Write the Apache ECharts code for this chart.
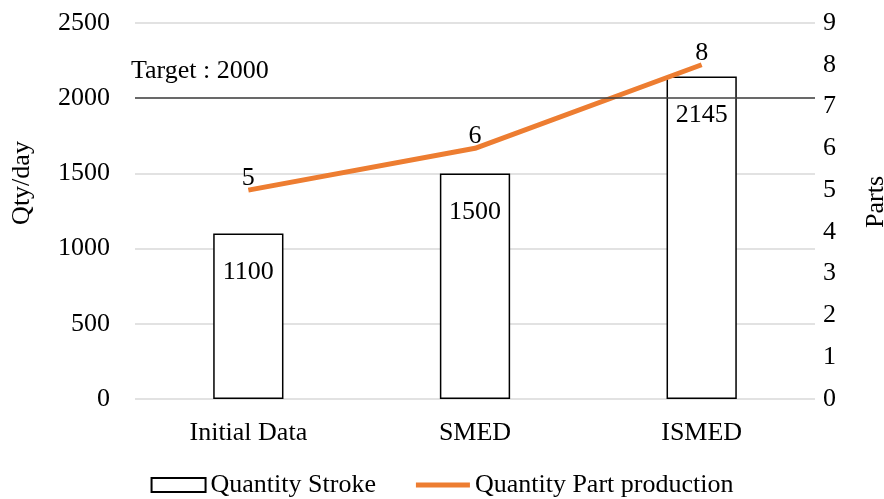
<!DOCTYPE html>
<html>
<head>
<meta charset="utf-8">
<script src="https://cdn.jsdelivr.net/npm/echarts@6/dist/echarts.min.js"></script>
<style>
  html, body { margin: 0; padding: 0; background: #fff; }
  #chart { width: 884px; height: 499px; }
</style>
</head>
<body>
<div id="chart"></div>
<script>
    // values
    var categories = ['Initial Data', 'SMED', 'ISMED'];
    var strokeQty = [1100, 1500, 2145];
    var partQty = [5, 6, 8];
    var targetQty = 2000;

    var font = 'Liberation Serif';
    var fs = 26;

    var option = {
        animation: false,
        grid: { left: 135, right: 69, top: 23, bottom: 100, outerBoundsMode: 'none' },
        legend: {
            bottom: -4,
            left: 'center',
            itemGap: 40,
            itemWidth: 54,
            itemHeight: 14,
            textStyle: { fontFamily: font, fontSize: fs, color: '#000' },
            data: [
                { name: 'Quantity Stroke', icon: 'rect' },
                {
                    name: 'Quantity Part production',
                    icon: 'path://M0,0 H56 V5 H0 Z',
                    itemStyle: { color: '#ED7D31', borderWidth: 0 }
                }
            ]
        },
        xAxis: {
            type: 'category',
            data: categories,
            axisLine: { show: false },
            axisTick: { show: false },
            axisLabel: { fontFamily: font, fontSize: fs, color: '#000', margin: 21 }
        },
        yAxis: [
            {
                type: 'value',
                min: 0, max: 2500, interval: 500,
                name: 'Qty/day',
                nameLocation: 'middle',
                nameGap: 100,
                nameRotate: 90,
                nameTextStyle: { fontFamily: font, fontSize: fs, color: '#000', padding: [0, 0, 0, 56] },
                axisLabel: {
                    fontFamily: font, fontSize: fs, color: '#000', margin: 25,
                    formatter: function (v) { return String(v); }
                },
                splitLine: { lineStyle: { color: '#d9d9d9', width: 1.5 } }
            },
            {
                type: 'value',
                min: 0, max: 9, interval: 1,
                name: 'Parts',
                nameLocation: 'middle',
                nameRotate: 90,
                nameGap: 48,
                nameTextStyle: { fontFamily: font, fontSize: fs, color: '#000', padding: [0, 0, 0, 18] },
                axisLabel: { fontFamily: font, fontSize: fs, color: '#000', margin: 8 },
                splitLine: { show: false }
            }
        ],
        series: [
            {
                name: 'Quantity Stroke',
                type: 'bar',
                data: strokeQty,
                barWidth: '31%',
                itemStyle: { color: '#fff', borderColor: '#000', borderWidth: 1.5 },
                label: {
                    show: true, position: 'insideTop', distance: 26,
                    fontFamily: font, fontSize: fs, color: '#000'
                },
                markLine: {
                    silent: true,
                    symbol: 'none',
                    lineStyle: { color: '#404040', width: 1.5, type: 'solid' },
                    label: {
                        show: true, position: 'insideStartTop',
                        formatter: 'Target : ' + targetQty,
                        fontFamily: font, fontSize: fs, color: '#000', distance: [-4, 14]
                    },
                    data: [{ yAxis: targetQty }]
                }
            },
            {
                name: 'Quantity Part production',
                type: 'line',
                yAxisIndex: 1,
                data: partQty,
                symbol: 'circle',
                symbolSize: 0,
                lineStyle: { color: '#ED7D31', width: 5 },
                itemStyle: { color: '#ED7D31' },
                label: {
                    show: true, position: 'top', distance: -1,
                    fontFamily: font, fontSize: fs, color: '#000'
                },
                z: 3
            }
        ]
    };

    var myChart = echarts.init(document.getElementById('chart'));
    myChart.setOption(option);
</script>
</body>
</html>
